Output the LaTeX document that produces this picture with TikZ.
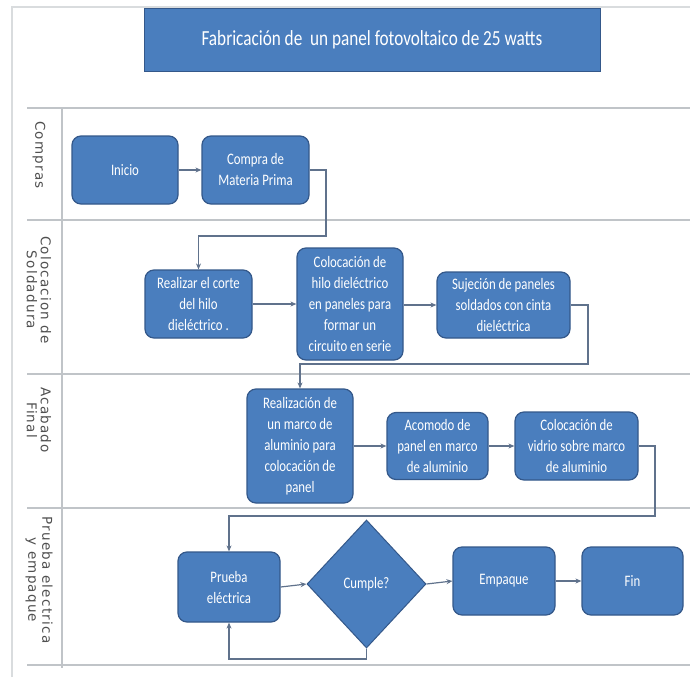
\documentclass[tikz,border=0pt]{standalone}
\usepackage{fontspec}
\setmainfont{Carlito}[FakeStretch=0.8]
\newfontfamily\lanefont{DejaVu Sans}[LetterSpace=9]
\usetikzlibrary{shapes.geometric,arrows.meta}
\definecolor{boxblue}{RGB}{74,126,190}
\definecolor{boxedge}{RGB}{52,88,138}
\definecolor{lanegray}{RGB}{192,196,200}
\definecolor{conn}{RGB}{96,114,140}
\definecolor{labelgray}{RGB}{80,80,80}
\tikzset{
  procbox/.style={draw=boxedge, line width=1.2pt, fill=boxblue, rounded corners=9pt,
    text=white, align=center, font=\fontsize{16}{21}\selectfont, inner sep=1pt},
  decbox/.style={draw=boxedge, line width=1pt, fill=boxblue, diamond, text=white,
    font=\fontsize{16}{21}\selectfont, inner sep=0pt},
  titlebox/.style={draw=boxedge, line width=1pt, fill=boxblue, text=white,
    font=\fontsize{21.5}{24}\selectfont},
  lanelabel/.style={rotate=-90, align=center, text=labelgray,
    font=\lanefont\fontsize{13.5}{14}\selectfont},
  laneline/.style={draw=lanegray, line width=1.3pt},
  flow/.style={draw=conn, line width=1.2pt, -{Stealth[length=6pt,width=5pt]}}
}
\begin{document}
\begin{tikzpicture}[x=1pt,y=-1pt]
\useasboundingbox (0,0) rectangle (690,677);
\fill[white] (0,0) rectangle (690,677);
% frame and lanes
\draw[laneline, draw=lanegray!60] (12,677) -- (12,7) -- (690,7);
\foreach \yy in {108,220,374,508,665} {\draw[laneline] (27,\yy) -- (690,\yy);}
\draw[laneline] (62,108) -- (62,668);
% lane labels
\node[lanelabel] (lc) at (39,155) {Compras};
\node[lanelabel] (ls) at (39,290) {Colocacion de\\Soldadura};
\node[lanelabel] (la) at (39,420) {Acabado\\Final};
\node[lanelabel] (lp) at (39,580) {Prueba electrica\\y empaque};
% title
\node[titlebox, minimum width=456pt, minimum height=62pt] (title) at (372,40)
  {Fabricación de\ \ un panel fotovoltaico de 25 watts};
% boxes
\node[procbox, minimum width=106pt, minimum height=68pt] (inicio) at (125,170) {Inicio};
\node[procbox, minimum width=107pt, minimum height=68pt] (compra) at (255.5,170) {Compra de\\Materia Prima};
\node[procbox, minimum width=107pt, minimum height=68pt] (realizar) at (198.5,304) {Realizar el corte\\del hilo\\dieléctrico .};
\node[procbox, minimum width=106pt, minimum height=112pt] (colhilo) at (350,304) {Colocación de\\hilo dieléctrico\\en paneles para\\formar un\\circuito en serie};
\node[procbox, minimum width=133pt, minimum height=66pt] (sujecion) at (503.5,305) {Sujeción de paneles\\soldados con cinta\\dieléctrica};
\node[procbox, minimum width=106pt, minimum height=114pt] (marco) at (300,446) {Realización de\\un marco de\\aluminio para\\colocación de\\panel};
\node[procbox, minimum width=101pt, minimum height=67pt] (acomodo) at (437.5,446) {Acomodo de\\panel en marco\\de aluminio};
\node[procbox, minimum width=123pt, minimum height=68pt] (vidrio) at (576.5,446) {Colocación de\\vidrio sobre marco\\de aluminio};
\node[procbox, minimum width=102pt, minimum height=70pt] (prueba) at (229,587) {Prueba\\eléctrica};
\node[decbox, minimum width=119pt, minimum height=128pt] (cumple) at (366.5,584) {Cumple?};
\node[procbox, minimum width=102pt, minimum height=68pt] (empaque) at (504,581) {Empaque};
\node[procbox, minimum width=101pt, minimum height=68pt] (fin) at (632.5,581) {Fin};
% bend points
\coordinate (c1) at (326,236);
\coordinate (c2) at (588,364);
\coordinate (c3) at (655,516);
\coordinate (c4) at (366.5,659);
% connectors
\draw[flow] (inicio) -- (compra);
\draw[flow] (compra.east) -| (c1) -| (realizar.north);
\draw[flow] (realizar) -- (colhilo);
\draw[flow] (colhilo.east |- sujecion.west) -- (sujecion.west);
\draw[flow] (sujecion.east) -| (c2) -| (marco.north);
\draw[flow] (marco.east |- acomodo.west) -- (acomodo.west);
\draw[flow] (acomodo) -- (vidrio);
\draw[flow] (vidrio.east) -| (c3) -| (prueba.north);
\draw[flow] (prueba.east) -- (cumple.west);
\draw[flow] (cumple.east) -- (empaque.west);
\draw[flow] (empaque) -- (fin);
\draw[flow] (cumple.south) -- (c4) -| (prueba.south);
\end{tikzpicture}
\end{document}
